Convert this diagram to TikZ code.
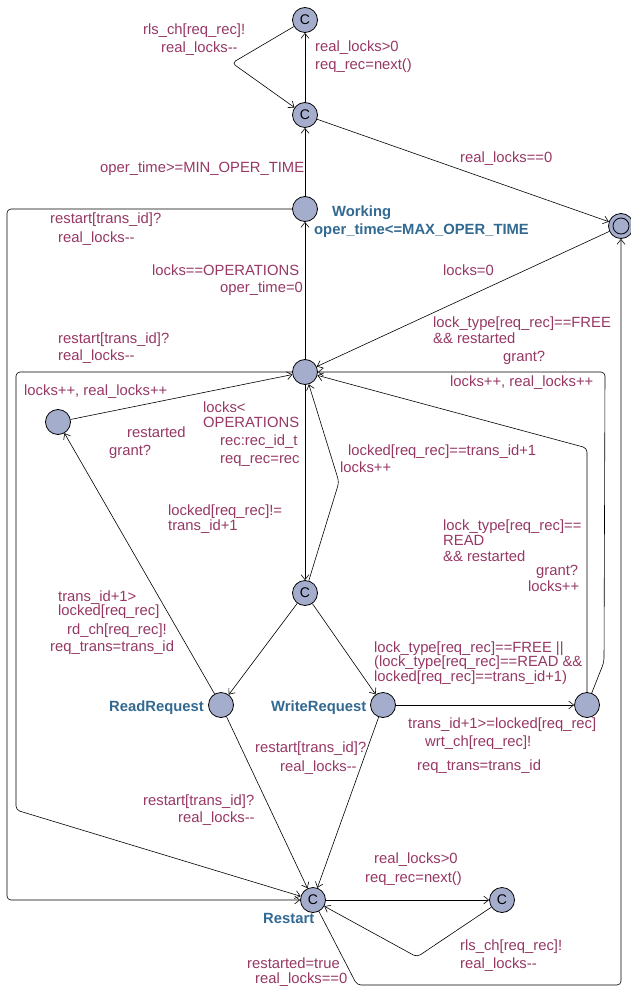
\documentclass[tikz,border=0pt]{standalone}
\usepackage{fontspec}
\setmainfont{Liberation Sans}[Ligatures=TeXOff]
\usetikzlibrary{arrows.meta}
\definecolor{locfill}{RGB}{165,173,204}
\definecolor{lblcol}{RGB}{150,55,100}
\definecolor{namecol}{RGB}{50,105,145}
\tikzset{
  loc/.style={circle, draw, line width=0.8pt, fill=locfill, minimum size=25pt, inner sep=0pt, font=\fontsize{14}{14}\selectfont},
  lab/.style={anchor=base west, inner sep=0pt, text=lblcol, font=\fontsize{14.8}{16}\selectfont},
  nmlab/.style={anchor=base west, inner sep=0pt, text=namecol, font=\fontsize{14.8}{16}\selectfont\bfseries},
  arr/.style={-{Straight Barb[length=5pt,width=8pt]}, line width=0.6pt, rounded corners=4pt},
}
\newcommand\lbl[4]{\node[lab] (#1) at (#2,#3) {#4};}
\newcommand\nmlbl[4]{\node[nmlab] (#1) at (#2,#3) {#4};}
\begin{document}
\begin{tikzpicture}[x=1pt,y=-1pt]
\useasboundingbox (0,0) rectangle (631,987);
% locations
\node[loc] (c1) at (305,20) {C};
\node[loc] (c2) at (305,115) {C};
\node[loc] (work) at (305,209) {};
\node[loc] (fin) at (621,226) {};
\node[circle, draw, line width=0.8pt, minimum size=16pt, inner sep=0pt] (finin) at (621,226) {};
\node[loc] (hub) at (305,372) {};
\node[loc] (lft) at (58,422) {};
\node[loc] (cc) at (305,593) {C};
\node[loc] (rr) at (221,705) {};
\node[loc] (wr) at (383,705) {};
\node[loc] (w2) at (587,705) {};
\node[loc] (rst) at (313,900) {C};
\node[loc] (c3) at (502,900) {C};
% bend points
\coordinate (b1) at (232,63);
\coordinate (b2) at (339,482);
\coordinate (b3) at (587,448);
\coordinate (b4a) at (604,662);
\coordinate (b4b) at (605,372);
\coordinate (b5a) at (7,209);
\coordinate (b5b) at (7,900);
\coordinate (b6a) at (16,372);
\coordinate (b6b) at (16,810);
\coordinate (b7) at (417,957);
\coordinate (b8a) at (357,985);
\coordinate (b8b) at (621,985);
% edges
\draw[arr] (c2) -- (c1);
\draw[arr] (c1) -- (b1) -- (c2);
\draw[arr] (c2) -- (fin);
\draw[arr] (work) -- (c2);
\draw[arr] (hub) -- (work);
\draw[arr] (fin) -- (hub);
\draw[arr] (work) -- (b5a) -- (b5b) -- (rst);
\draw[arr] (hub) -- (b6a) -- (b6b) -- (rst);
\draw[arr] (lft) -- (hub);
\draw[arr] (rr) -- (lft);
\draw[arr] (hub) -- (cc);
\draw[arr] (cc) -- (b2) -- (hub);
\draw[arr] (cc) -- (rr);
\draw[arr] (cc) -- (wr);
\draw[arr] (wr) -- (w2);
\draw[arr] (w2) -- (b3) -- (hub);
\draw[arr] (w2) -- (b4a) -- (b4b) -- (hub);
\draw[arr] (rr) -- (rst);
\draw[arr] (wr) -- (rst);
\draw[arr] (rst) -- (c3);
\draw[arr] (c3) -- (b7) -- (rst);
\draw[arr] (rst) -- (b8a) -- (b8b) -- (fin);
% labels
\lbl{l1}{143}{35}{rls\_ch[req\_rec]!}
\lbl{l2}{161}{53}{real\_locks--}
\lbl{l3}{315}{52}{real\_locks>0}
\lbl{l4}{315}{70}{req\_rec=next()}
\lbl{l5}{100}{173}{oper\_time>=MIN\_OPER\_TIME}
\lbl{l6}{460}{163}{real\_locks==0}
\nmlbl{n1}{332}{216}{Working}
\nmlbl{n2}{314}{234}{oper\_time<=MAX\_OPER\_TIME}
\lbl{l9}{50}{223}{restart[trans\_id]?}
\lbl{l10}{58}{242}{real\_locks--}
\lbl{l11}{152}{275}{locks==OPERATIONS}
\lbl{l12}{220}{292}{oper\_time=0}
\lbl{l13}{443}{275}{locks=0}
\lbl{l14}{433}{327}{lock\_type[req\_rec]==FREE}
\lbl{l15}{433}{343}{\&\& restarted}
\lbl{l16}{503}{361}{grant?}
\lbl{l17}{58}{343}{restart[trans\_id]?}
\lbl{l18}{58}{360}{real\_locks--}
\lbl{l19}{24}{395}{locks++, real\_locks++}
\lbl{l20}{450}{386}{locks++, real\_locks++}
\lbl{l21}{203}{412}{locks<}
\lbl{l22}{203}{427}{OPERATIONS}
\lbl{l23}{220}{445}{rec:rec\_id\_t}
\lbl{l24}{220}{463}{req\_rec=rec}
\lbl{l25}{127}{437}{restarted}
\lbl{l26}{109}{455}{grant?}
\lbl{l27}{348}{455}{locked[req\_rec]==trans\_id+1}
\lbl{l28}{340}{472}{locks++}
\lbl{l29}{168}{515}{locked[req\_rec]!=}
\lbl{l30}{168}{530}{trans\_id+1}
\lbl{l31}{443}{530}{lock\_type[req\_rec]==}
\lbl{l32}{443}{545}{READ}
\lbl{l33}{443}{561}{\&\& restarted}
\lbl{l34}{536}{575}{grant?}
\lbl{l35}{528}{591}{locks++}
\lbl{l36}{58}{601}{trans\_id+1>}
\lbl{l37}{58}{615}{locked[req\_rec]}
\lbl{l38}{67}{634}{rd\_ch[req\_rec]!}
\lbl{l39}{50}{651}{req\_trans=trans\_id}
\lbl{l40}{374}{652}{lock\_type[req\_rec]==FREE ||}
\lbl{l41}{374}{666}{(lock\_type[req\_rec]==READ \&\&}
\lbl{l42}{374}{681}{locked[req\_rec]==trans\_id+1)}
\nmlbl{n3}{109}{711}{ReadRequest}
\nmlbl{n4}{271}{711}{WriteRequest}
\lbl{l45}{408}{728}{trans\_id+1>=locked[req\_rec]}
\lbl{l46}{425}{746}{wrt\_ch[req\_rec]!}
\lbl{l47}{417}{770}{req\_trans=trans\_id}
\lbl{l48}{255}{752}{restart[trans\_id]?}
\lbl{l49}{280}{771}{real\_locks--}
\lbl{l50}{143}{805}{restart[trans\_id]?}
\lbl{l51}{178}{822}{real\_locks--}
\lbl{l52}{374}{863}{real\_locks>0}
\lbl{l53}{365}{882}{req\_rec=next()}
\nmlbl{n5}{263}{923}{Restart}
\lbl{l55}{460}{950}{rls\_ch[req\_rec]!}
\lbl{l56}{460}{968}{real\_locks--}
\lbl{l57}{247}{968}{restarted=true}
\lbl{l58}{255}{983}{real\_locks==0}
\end{tikzpicture}
\end{document}
